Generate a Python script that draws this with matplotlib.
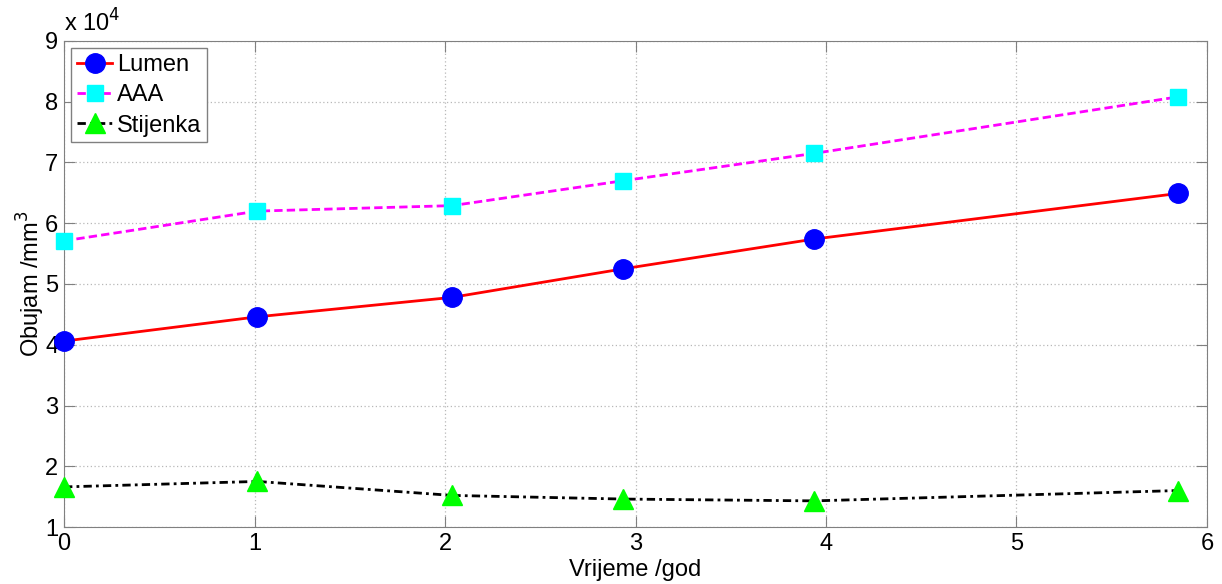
import matplotlib
matplotlib.use("Agg")
import matplotlib.pyplot as plt
from matplotlib.ticker import FuncFormatter

# time in years
vrijeme = [0.0, 1.015, 2.037, 2.936, 3.938, 5.847]
# volumes in mm^3
lumen = [40600, 44600, 47800, 52500, 57400, 64900]
aaa = [57100, 62000, 62900, 67000, 71500, 80800]
stijenka = [16600, 17500, 15200, 14600, 14300, 16000]

plt.rcParams['font.family'] = ['Liberation Sans', 'DejaVu Sans']

fig = plt.figure(figsize=(12.22, 5.84), dpi=100)
ax = fig.add_axes([0.0524, 0.0976, 0.9353, 0.8322])

ax.plot(vrijeme, lumen, '-', color='red', lw=2, marker='o', ms=14,
        mfc='blue', mec='blue', label='Lumen', clip_on=False, zorder=3)
ax.plot(vrijeme, aaa, '--', color='magenta', lw=2, marker='s', ms=11,
        mfc='cyan', mec='cyan', label='AAA', dashes=(3, 1.5),
        clip_on=False, zorder=3)
ax.plot(vrijeme, stijenka, '-.', color='black', lw=2, marker='^', ms=14,
        mfc='#00ff00', mec='#00ff00', label='Stijenka',
        dashes=(3, 1.5, 1, 1.5), clip_on=False, zorder=3)

ax.set_xlim(0, 6)
ax.set_ylim(10000, 90000)
ax.set_xticks(range(0, 7))
ax.set_yticks(range(10000, 90001, 10000))
ax.yaxis.set_major_formatter(FuncFormatter(lambda v, p: "%d" % round(v / 1e4)))
ax.text(0.0, 1.01, r'x 10$^4$', transform=ax.transAxes, fontsize=17,
        ha='left', va='bottom')

ax.grid(True, linestyle=(0, (1, 2)), color='#b8b8b8', lw=0.9)
ax.tick_params(direction='in', length=8, top=True, right=True,
               labelsize=17, color='#808080', pad=4)
for s in ax.spines.values():
    s.set_color('#808080')

ax.set_xlabel('Vrijeme /god', fontsize=17, labelpad=3)
ax.set_ylabel('Obujam /mm$^3$', fontsize=17, labelpad=-1)

leg = ax.legend(loc='upper left', fontsize=17, fancybox=False,
                edgecolor='#808080', framealpha=1, handlelength=1.5,
                borderaxespad=0.3, labelspacing=0.35, handletextpad=0.2,
                borderpad=0.25)
leg.get_frame().set_linewidth(1)

fig.savefig('out.png', dpi=100)
